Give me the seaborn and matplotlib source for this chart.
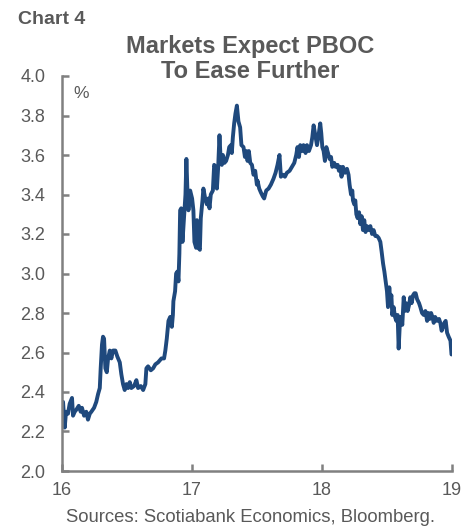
import matplotlib
matplotlib.use("Agg")
import matplotlib.pyplot as plt
import seaborn as sns
import pandas as pd

years = [
    16.000, 16.008, 16.021, 16.031, 16.046, 16.059, 16.077, 16.085, 16.098, 16.110,
    16.129, 16.144, 16.154, 16.170, 16.187, 16.200, 16.214, 16.226, 16.247, 16.264,
    16.278, 16.291, 16.298, 16.308, 16.316, 16.324, 16.334, 16.345, 16.355, 16.368,
    16.380, 16.393, 16.411, 16.426, 16.445, 16.457, 16.470, 16.483, 16.496, 16.509,
    16.522, 16.534, 16.555, 16.573, 16.586, 16.607, 16.625, 16.642, 16.650, 16.663,
    16.684, 16.702, 16.719, 16.740, 16.766, 16.786, 16.796, 16.807, 16.820, 16.833,
    16.846, 16.854, 16.858, 16.871, 16.879, 16.889, 16.897, 16.904, 16.910, 16.918,
    16.928, 16.941, 16.951, 16.958, 16.966, 16.974, 16.987, 17.002, 17.012, 17.020,
    17.033, 17.039, 17.051, 17.062, 17.069, 17.082, 17.089, 17.103, 17.116, 17.128,
    17.136, 17.146, 17.162, 17.172, 17.182, 17.193, 17.203, 17.213, 17.221, 17.231,
    17.239, 17.251, 17.264, 17.278, 17.288, 17.301, 17.308, 17.316, 17.326, 17.336,
    17.347, 17.359, 17.372, 17.382, 17.398, 17.409, 17.419, 17.429, 17.439, 17.450,
    17.463, 17.475, 17.488, 17.501, 17.506, 17.519, 17.532, 17.547, 17.557, 17.573,
    17.591, 17.609, 17.629, 17.645, 17.660, 17.675, 17.686, 17.702, 17.717, 17.732,
    17.753, 17.771, 17.789, 17.804, 17.814, 17.825, 17.835, 17.850, 17.860, 17.876,
    17.887, 17.902, 17.918, 17.928, 17.938, 17.951, 17.964, 17.976, 17.989, 17.997,
    18.005, 18.015, 18.025, 18.036, 18.049, 18.061, 18.072, 18.082, 18.097, 18.107,
    18.123, 18.133, 18.143, 18.153, 18.164, 18.180, 18.195, 18.207, 18.215, 18.226,
    18.236, 18.241, 18.251, 18.259, 18.267, 18.277, 18.288, 18.298, 18.308, 18.318,
    18.328, 18.338, 18.349, 18.362, 18.375, 18.388, 18.400, 18.413, 18.426, 18.439,
    18.452, 18.462, 18.473, 18.483, 18.493, 18.503, 18.511, 18.521, 18.529, 18.537,
    18.544, 18.554, 18.565, 18.575, 18.585, 18.593, 18.601, 18.611, 18.621, 18.632,
    18.639, 18.650, 18.662, 18.673, 18.683, 18.693, 18.704, 18.714, 18.724, 18.735,
    18.750, 18.760, 18.773, 18.786, 18.799, 18.812, 18.822, 18.832, 18.843, 18.853,
    18.863, 18.874, 18.889, 18.904, 18.914, 18.924, 18.935, 18.945, 18.955, 18.966,
    18.978, 18.992, 19.000,
]

yields = [
    2.34, 2.35, 2.22, 2.30, 2.29, 2.34, 2.37, 2.28, 2.30, 2.31,
    2.33, 2.30, 2.32, 2.28, 2.30, 2.26, 2.29, 2.30, 2.32, 2.35,
    2.39, 2.42, 2.52, 2.64, 2.68, 2.67, 2.52, 2.50, 2.57, 2.61,
    2.57, 2.61, 2.61, 2.58, 2.55, 2.49, 2.44, 2.41, 2.44, 2.42,
    2.45, 2.42, 2.43, 2.46, 2.42, 2.43, 2.41, 2.44, 2.52, 2.53,
    2.51, 2.52, 2.54, 2.55, 2.57, 2.57, 2.61, 2.67, 2.76, 2.78,
    2.73, 2.79, 2.86, 2.91, 3.00, 3.01, 2.96, 3.10, 3.32, 3.33,
    3.16, 3.30, 3.40, 3.58, 3.42, 3.32, 3.42, 3.38, 3.32, 3.16,
    3.13, 3.27, 3.13, 3.12, 3.28, 3.37, 3.43, 3.38, 3.35, 3.38,
    3.33, 3.40, 3.42, 3.55, 3.54, 3.43, 3.54, 3.70, 3.59, 3.55,
    3.60, 3.56, 3.57, 3.60, 3.64, 3.65, 3.61, 3.69, 3.76, 3.81,
    3.85, 3.77, 3.74, 3.65, 3.64, 3.59, 3.62, 3.57, 3.62, 3.56,
    3.55, 3.50, 3.52, 3.45, 3.47, 3.43, 3.41, 3.39, 3.38, 3.42,
    3.43, 3.45, 3.48, 3.51, 3.55, 3.60, 3.49, 3.50, 3.49, 3.51,
    3.52, 3.54, 3.56, 3.60, 3.64, 3.59, 3.65, 3.62, 3.65, 3.61,
    3.65, 3.62, 3.65, 3.69, 3.75, 3.70, 3.65, 3.70, 3.76, 3.71,
    3.64, 3.62, 3.57, 3.64, 3.61, 3.58, 3.59, 3.54, 3.56, 3.54,
    3.55, 3.52, 3.54, 3.49, 3.54, 3.51, 3.53, 3.50, 3.45, 3.40,
    3.42, 3.37, 3.35, 3.37, 3.30, 3.28, 3.31, 3.25, 3.29, 3.22,
    3.27, 3.21, 3.24, 3.22, 3.24, 3.20, 3.22, 3.19, 3.19, 3.18,
    3.16, 3.11, 3.05, 3.01, 2.96, 2.91, 2.83, 2.93, 2.86, 2.89,
    2.79, 2.83, 2.78, 2.76, 2.79, 2.62, 2.73, 2.78, 2.74, 2.88,
    2.81, 2.85, 2.81, 2.84, 2.88, 2.85, 2.89, 2.90, 2.90, 2.87,
    2.85, 2.83, 2.80, 2.79, 2.81, 2.76, 2.80, 2.77, 2.80, 2.78,
    2.75, 2.78, 2.76, 2.77, 2.75, 2.71, 2.73, 2.75, 2.76, 2.70,
    2.68, 2.66, 2.59,
]

y_ticks = [2.0, 2.2, 2.4, 2.6, 2.8, 3.0, 3.2, 3.4, 3.6, 3.8, 4.0]
x_ticks = [16, 17, 18, 19]
x_tick_labels = ["16", "17", "18", "19"]

title_text = "Markets Expect PBOC\nTo Ease Further"
chart_label = "Chart 4"
unit_label = "%"
source_text = "Sources: Scotiabank Economics, Bloomberg."

sns.set_style("white")
plt.rcParams["font.family"] = ["Liberation Sans", "DejaVu Sans"]

TEXT = "#595959"
AXIS = "#808080"
LINE = "#1F497D"

df = pd.DataFrame({"year": years, "yield": yields})

fig = plt.figure(figsize=(4.75, 5.29), dpi=100)
ax = fig.add_axes([62 / 475, 1 - 471 / 529, (451.5 - 62) / 475, (471 - 76) / 529])

sns.lineplot(data=df, x="year", y="yield", ax=ax, color=LINE, linewidth=2.8,
             estimator=None, sort=False)

ax.set_xlim(16, 19)
ax.set_ylim(2.0, 4.0)
ax.set_xticks(x_ticks)
ax.set_xticklabels(x_tick_labels)
ax.set_yticks(y_ticks)
ax.set_yticklabels([f"{v:.1f}" for v in y_ticks])
ax.set_xlabel("")
ax.set_ylabel("")

for side in ["top", "right"]:
    ax.spines[side].set_visible(False)
for side in ["left", "bottom"]:
    ax.spines[side].set_color(AXIS)
    ax.spines[side].set_linewidth(1.8)

ax.tick_params(axis="both", direction="in", length=5, width=1.8, color=AXIS,
               labelcolor=TEXT, labelsize=13)
ax.tick_params(axis="y", pad=12)
ax.tick_params(axis="x", pad=8)
ax.tick_params(left=True, bottom=True)

ax.text(0.028, 0.975, unit_label, transform=ax.transAxes, ha="left", va="top",
        fontsize=12.5, color=TEXT)

fig.text(18 / 475, 1 - 20 / 529, chart_label, ha="left", va="center",
         fontsize=14, fontweight="bold", color=TEXT,
         family=["Liberation Sans Narrow", "Liberation Sans"])
fig.text(250 / 475, 1 - 59 / 529, title_text, ha="center", va="center",
         fontsize=17, fontweight="bold", color=TEXT, linespacing=1.15)
fig.text(251 / 475, 1 - 517 / 529, source_text, ha="center", va="center",
         fontsize=13.3, color=TEXT)

fig.savefig("out.png", dpi=100)
